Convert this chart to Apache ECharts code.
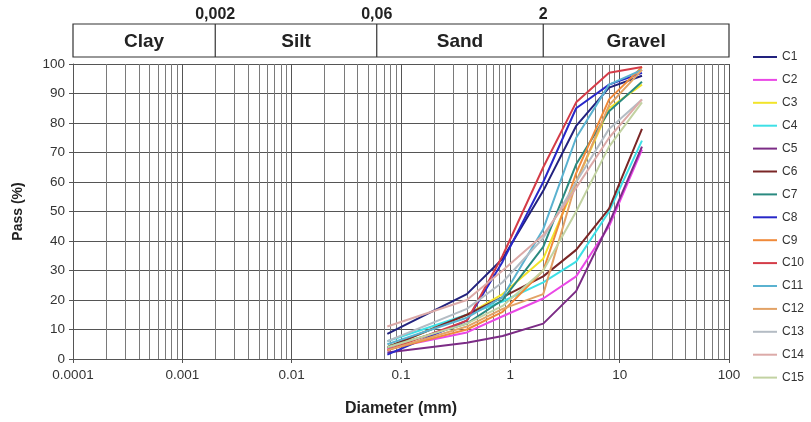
<!DOCTYPE html>
<html>
<head>
<meta charset="utf-8" />
<style>html,body{margin:0;padding:0;background:#fff}#chart{width:811px;height:422px}</style>
</head>
<body>
<div id="chart"></div>
<script src="https://cdn.jsdelivr.net/npm/echarts@6/dist/echarts.min.js"></script>
<script>
// sieve sizes (mm)
var sizes = [0.075, 0.4, 0.85, 2, 4, 8, 16];
var names = ['C1','C2','C3','C4','C5','C6','C7','C8','C9','C10','C11','C12','C13','C14','C15'];
var colors = ['#22227e','#ea48e6','#f2e42a','#3ee0e6','#7c2c86','#7a2626','#2a8a80','#2828c8',
              '#f08a3a','#d43c48','#5ab2d0','#e2a266','#b4bcc4','#dcaaa8','#c2d2a2'];
var C1  = [8.5, 22, 34, 57, 79, 92, 96];
var C2  = [3.5, 9, 14.5, 20.5, 28, 45, 71];
var C3  = [4, 15, 22, 34, 60, 85, 93];
var C4  = [6, 15, 19.5, 26, 33, 50, 74];
var C5  = [2.2, 5.5, 7.8, 12, 23, 46, 72];
var C6  = [4, 15, 21, 28, 37, 51, 78];
var C7  = [4, 12, 20, 38, 66, 84, 94];
var C8  = [1.5, 13, 33, 60, 85, 93, 97];
var C9  = [3, 10, 16, 30, 63, 88, 99];
var C10 = [3, 13, 35, 65, 87, 97, 99];
var C11 = [5, 14, 21, 44, 75, 93, 98];
var C12 = [3, 11, 17, 22, 60, 86, 98];
var C13 = [6, 17, 26, 41, 60, 78, 88];
var C14 = [11, 20, 30, 42, 58, 75, 88];
var C15 = [4, 12, 18, 30, 50, 72, 87];
var values = [C1,C2,C3,C4,C5,C6,C7,C8,C9,C10,C11,C12,C13,C14,C15];
// soil class boundaries (mm) and names
var bounds = [0.0001, 0.002, 0.06, 2, 100];
var boundLabels = ['0,002', '0,06', '2'];
var classes = ['Clay', 'Silt', 'Sand', 'Gravel'];

// minor log grid lines at 2..9 of each decade
var minorLines = [];
for (var e = -4; e < 2; e++) {
    for (var m = 2; m <= 9; m++) {
        var v = +(m * Math.pow(10, e)).toPrecision(3);
        minorLines.push({coords: [[v, 0], [v, 100]]});
    }
}

var series = names.map(function (n, i) {
    return {
        name: n, type: 'line', symbol: 'none', z: 5,
        lineStyle: {width: 2, color: colors[i]},
        itemStyle: {color: colors[i]},
        data: sizes.map(function (s, j) { return [s, values[i][j]]; })
    };
});
series.push({
    type: 'lines', coordinateSystem: 'cartesian2d', silent: true, z: 1,
    lineStyle: {color: '#7a7a7a', width: 1, opacity: 1},
    data: minorLines
});

var chart = echarts.init(document.getElementById('chart'));
chart.setOption({
    animation: false,
    textStyle: {fontFamily: 'Liberation Sans, Arial, sans-serif'},
    grid: {left: 73, right: 82, top: 64, bottom: 59},
    legend: {
        orient: 'vertical', left: 748, top: 46,
        icon: 'rect', itemWidth: 24, itemHeight: 2,
        itemGap: 10.9,
        textStyle: {fontSize: 12, color: '#333'},
        data: names
    },
    xAxis: {
        type: 'log', logBase: 10, min: 0.0001, max: 100,
        name: 'Diameter (mm)', nameLocation: 'middle', nameGap: 42,
        nameTextStyle: {fontSize: 16, fontWeight: 'bold', color: '#222'},
        axisLine: {lineStyle: {color: '#555', width: 1}},
        axisTick: {show: true, length: 4, lineStyle: {color: '#555'}},
        axisLabel: {fontSize: 13.5, color: '#333', margin: 9,
            formatter: function (v) { return v < 1 ? v.toFixed(Math.round(-Math.log10(v))) : String(v); }},
        splitLine: {show: true, lineStyle: {color: '#555', width: 1}}
    },
    yAxis: {
        type: 'value', min: 0, max: 100, interval: 10,
        name: 'Pass (%)', nameLocation: 'middle', nameGap: 48,
        nameTextStyle: {fontSize: 14, fontWeight: 'bold', color: '#222'},
        axisLine: {show: true, lineStyle: {color: '#555'}},
        axisTick: {show: true, length: 4, lineStyle: {color: '#555'}},
        axisLabel: {fontSize: 13.5, color: '#333', margin: 8},
        splitLine: {show: true, lineStyle: {color: '#555', width: 1}}
    },
    series: series
});

// header band with soil classes, placed by the x scale
var bandTop = 24, bandH = 33;
var px = bounds.map(function (b) { return chart.convertToPixel({xAxisIndex: 0}, b); });
var g = [];
g.push({type: 'rect', shape: {x: px[0], y: bandTop, width: px[4] - px[0], height: bandH},
    style: {fill: '#fff', stroke: '#333', lineWidth: 1.2}});
for (var k = 1; k < 4; k++) {
    g.push({type: 'line', shape: {x1: px[k], y1: bandTop, x2: px[k], y2: bandTop + bandH},
        style: {stroke: '#333', lineWidth: 1.2}});
    g.push({type: 'text', x: px[k], y: bandTop - 1, style: {text: boundLabels[k - 1],
        font: 'bold 16px Liberation Sans, Arial, sans-serif', fill: '#222', align: 'center', verticalAlign: 'bottom'}});
}
for (var c = 0; c < 4; c++) {
    g.push({type: 'text', x: (px[c] + px[c + 1]) / 2, y: bandTop + bandH / 2 + 1, style: {text: classes[c],
        font: 'bold 19px Liberation Sans, Arial, sans-serif', fill: '#222', align: 'center', verticalAlign: 'middle'}});
}
chart.setOption({graphic: g});
</script>
</body>
</html>
